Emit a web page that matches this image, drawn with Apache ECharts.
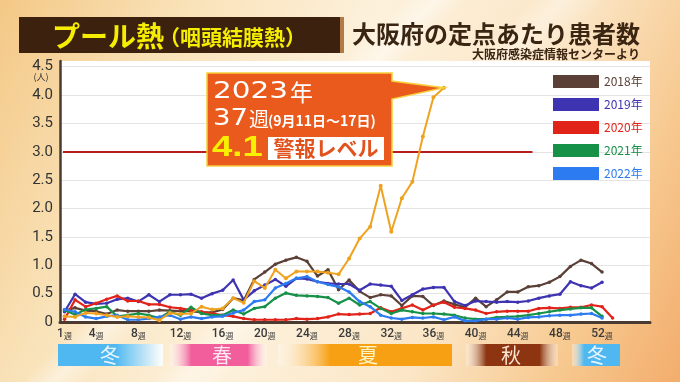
<!DOCTYPE html>
<html><head><meta charset="utf-8">
<script src="https://cdn.jsdelivr.net/npm/echarts@6/dist/echarts.min.js"></script>
<style>
html,body{margin:0;padding:0;width:680px;height:382px;overflow:hidden}
body{background:
 linear-gradient(135deg, rgba(255,255,255,0) 38%, rgba(255,255,255,0.45) 41%, rgba(255,255,255,0) 44%),
 linear-gradient(135deg, rgba(255,255,255,0) 50%, rgba(255,255,255,0.35) 53%, rgba(255,255,255,0) 57%),
 linear-gradient(115deg, #f4c886 0%, #f9e2b8 22%, #fdf1dc 45%, #fbe6c6 68%, #f7c990 85%, #f3ad6c 100%);}
#c{width:680px;height:382px}
</style>
</head><body><div id="c"></div>
<script>
const weeks = [1,2,3,4,5,6,7,8,9,10,11,12,13,14,15,16,17,18,19,20,21,22,23,24,25,26,27,28,29,30,31,32,33,34,35,36,37,38,39,40,41,42,43,44,45,46,47,48,49,50,51,52,53];
const xTickWeeks = [1,4,8,12,16,20,24,28,32,36,40,44,48,52];
const yTicks = [0,0.5,1,1.5,2,2.5,3,3.5,4,4.5];
const seriesNames = ['2018年','2019年','2020年','2021年','2022年','2023年'];
const y2018 = [0.20,0.25,0.20,0.19,0.14,0.21,0.19,0.19,0.19,0.21,
 0.20,0.19,0.19,0.17,0.17,0.22,0.42,0.38,0.75,0.88,
 1.02,1.09,1.14,1.07,0.81,0.92,0.57,0.74,0.54,0.43,
 0.48,0.46,0.29,0.46,0.45,0.29,0.37,0.31,0.26,0.42,
 0.27,0.39,0.53,0.53,0.62,0.64,0.70,0.80,0.98,1.09,
 1.03,0.88];
const y2019 = [0.18,0.49,0.35,0.32,0.33,0.40,0.42,0.36,0.48,0.36,
 0.48,0.48,0.49,0.42,0.50,0.56,0.74,0.39,0.55,0.65,
 0.75,0.63,0.77,0.76,0.71,0.68,0.67,0.67,0.56,0.67,
 0.65,0.63,0.38,0.48,0.58,0.61,0.61,0.36,0.29,0.37,
 0.36,0.35,0.36,0.35,0.37,0.42,0.46,0.49,0.71,0.64,
 0.60,0.70];
const y2020 = [0.05,0.39,0.27,0.33,0.40,0.46,0.37,0.37,0.31,0.31,
 0.26,0.24,0.21,0.18,0.15,0.12,0.10,0.06,0.04,0.04,
 0.04,0.04,0.06,0.05,0.06,0.09,0.14,0.13,0.14,0.15,
 0.25,0.18,0.24,0.30,0.21,0.30,0.35,0.26,0.24,0.21,
 0.15,0.18,0.19,0.19,0.19,0.24,0.25,0.24,0.26,0.26,
 0.30,0.27,0.07];
const y2021 = [0.21,0.13,0.22,0.24,0.27,0.10,0.12,0.15,0.12,0.07,
 0.18,0.12,0.26,0.15,0.12,0.12,0.21,0.14,0.24,0.27,
 0.42,0.51,0.47,0.46,0.45,0.43,0.33,0.42,0.30,0.36,
 0.24,0.15,0.21,0.18,0.15,0.15,0.14,0.12,0.07,0.05,
 0.05,0.08,0.09,0.10,0.12,0.15,0.18,0.21,0.23,0.25,
 0.25,0.10];
const y2022 = [0.22,0.18,0.09,0.06,0.10,0.12,0.04,0.04,0.06,0.09,
 0.12,0.05,0.09,0.06,0.09,0.10,0.16,0.21,0.36,0.39,
 0.60,0.68,0.77,0.80,0.71,0.66,0.62,0.53,0.36,0.27,
 0.12,0.07,0.05,0.08,0.07,0.09,0.04,0.09,0.02,0.02,
 0.05,0.05,0.07,0.05,0.08,0.09,0.11,0.12,0.12,0.14,
 0.15,0.07];
const y2023 = [0.10,0.09,0.16,0.15,0.12,0.09,0.10,0.09,0.08,0.03,
 0.16,0.14,0.15,0.27,0.22,0.24,0.42,0.34,0.72,0.60,
 0.92,0.77,0.89,0.89,0.89,0.87,0.84,1.12,1.47,1.68,
 2.40,1.59,2.18,2.47,3.27,3.96,4.13];
const alertLevel = 3.0;
const alertLineWeeks = [0.85, 45.4];
const seasons = [
  {name:'冬', from:58, to:163, color:'#4fb8f0', text:'#eaf6ff', fade:'right'},
  {name:'春', from:170, to:267, color:'#f25d9c', text:'#ffe6f2', fade:'both'},
  {name:'夏', from:278, to:452, color:'#f7a014', text:'#fff6c8', fade:'left'},
  {name:'秋', from:466, to:558, color:'#8c3510', text:'#fbe4d6', fade:'both'},
  {name:'冬', from:572, to:620, color:'#4fb8f0', text:'#eaf6ff', fade:'left'}
];

const colors = ['#5b4037','#3e33b0','#e2231a','#169148','#2c7bf0','#eea21f'];
const allY = [y2018,y2019,y2020,y2021,y2022,y2023];
const JP = '"Noto Sans CJK JP", sans-serif';

const series = allY.map((arr, i) => ({
  name: seriesNames[i],
  type: 'line',
  data: arr.map((v, j) => [weeks[j], v]),
  symbol: 'circle',
  symbolSize: i === 5 ? 4 : 3.5,
  itemStyle: {color: colors[i]},
  lineStyle: {color: colors[i], width: i === 5 ? 2 : 2.2},
  z: i === 5 ? 10 : 3 + i,
  silent: true,
  animation: false
}));
series[0].markLine = {
  symbol: 'none', silent: true, label: {show: false},
  lineStyle: {color: '#b81c1c', width: 2, type: 'solid'},
  data: [[{coord: [alertLineWeeks[0], alertLevel]}, {coord: [alertLineWeeks[1], alertLevel]}]]
};

const splitColors = yTicks.map(() => '#e4e4e4').concat(['rgba(0,0,0,0)']);

const chart = echarts.init(document.getElementById('c'), null, {width: 680, height: 382});
chart.setOption({
  animation: false,
  backgroundColor: 'transparent',
  grid: {left: 60, right: 30, top: 61, bottom: 60, show: true, backgroundColor: '#ffffff', borderWidth: 0},
  xAxis: {
    type: 'value', min: 0.57, max: 56.55,
    axisLine: {show: true, onZero: false, lineStyle: {color: '#4a3a30', width: 3}},
    axisTick: {show: false},
    splitLine: {show: false},
    axisLabel: {
      customValues: xTickWeeks,
      margin: 6,
      formatter: v => '{n|' + v + '}{w|週}',
      rich: {
        n: {fontSize: 12, color: '#3a3a3a', fontFamily: 'Roboto', fontWeight: 500},
        w: {fontSize: 8, color: '#3a3a3a', fontFamily: JP, padding: [3, 0, 0, 0]}
      }
    }
  },
  yAxis: {
    type: 'value', min: 0, max: 4.6, interval: 0.5,
    axisLine: {show: true, lineStyle: {color: '#4a3a30', width: 2.5}},
    axisTick: {show: false},
    splitLine: {show: true, lineStyle: {color: splitColors, width: 1}},
    axisLabel: {
      showMaxLabel: false, margin: 7,
      color: '#333', fontSize: 15, fontFamily: 'Roboto',
      formatter: v => yTicks.includes(v) ? (v === 0 ? '0' : v.toFixed(1)) : ''
    }
  },
  legend: {
    orient: 'vertical', left: 548, top: 70, itemWidth: 46, itemHeight: 13, itemGap: 10,
    icon: 'rect', selectedMode: false,
    textStyle: {fontSize: 12, fontFamily: JP},
    data: seriesNames.slice(0, 5).map((n, i) => ({name: n, textStyle: {color: colors[i]}, itemStyle: {color: colors[i]}}))
  },
  series: series
});

// decorations
const tip = chart.convertToPixel({gridIndex: 0}, [weeks[y2023.length - 1], y2023[y2023.length - 1]]);
const g = [];
// title
g.push({type: 'rect', shape: {x: 19, y: 17, width: 322, height: 36}, style: {fill: '#3c210e'}, z: 20});
g.push({type: 'rect', shape: {x: 340, y: 17, width: 4, height: 36}, style: {fill: '#b37a48'}, z: 20});
g.push({type: 'text', x: 52, y: 36, z: 21, style: {text: 'プール熱', fontSize: 28, fontWeight: 'bold', fontFamily: JP, fill: '#f6ee00', verticalAlign: 'middle'}});
g.push({type: 'text', x: 159, y: 37, z: 21, style: {text: '（咽頭結膜熱）', fontSize: 21, fontWeight: 'bold', fontFamily: JP, fill: '#f6ee00', verticalAlign: 'middle'}});
g.push({type: 'text', x: 352, y: 34, z: 21, style: {text: '大阪府の定点あたり患者数', fontSize: 24, fontWeight: 'bold', fontFamily: JP, fill: '#3a2412', verticalAlign: 'middle'}});
g.push({type: 'text', x: 640, y: 54, z: 21, style: {text: '大阪府感染症情報センターより', fontSize: 12, fontWeight: 'bold', fontFamily: JP, fill: '#3a2412', align: 'right', verticalAlign: 'middle'}});
g.push({type: 'text', x: 41, y: 77, z: 21, style: {text: '(人)', fontSize: 9, fontFamily: JP, fill: '#333', align: 'center', verticalAlign: 'middle'}});
// seasons
seasons.forEach(s => {
  const w = s.to - s.from;
  let stops;
  if (s.fade === 'right') stops = [{offset: 0, color: s.color}, {offset: 0.55, color: s.color}, {offset: 1, color: 'rgba(255,255,255,0.9)'}];
  else if (s.fade === 'left') stops = [{offset: 0, color: 'rgba(255,255,255,0.3)'}, {offset: w > 100 ? 0.3 : 0.25, color: s.color}, {offset: 1, color: s.color}];
  else stops = [{offset: 0, color: 'rgba(255,255,255,0.3)'}, {offset: 0.22, color: s.color}, {offset: 0.8, color: s.color}, {offset: 1, color: 'rgba(255,255,255,0.3)'}];
  g.push({type: 'rect', z: 20, shape: {x: s.from, y: 344, width: w, height: 22},
    style: {fill: new echarts.graphic.LinearGradient(0, 0, 1, 0, stops)}});
});
const seasonTextX = [110, 222, 368, 511, 597];
seasons.forEach((s, i) => {
  g.push({type: 'text', z: 21, x: seasonTextX[i], y: 355, style: {text: s.name, fontSize: 20, fontFamily: JP, fill: s.text, align: 'center', verticalAlign: 'middle'}});
});
// callout
g.push({type: 'polygon', z: 30, shape: {points: [[207, 73], [392, 73], [392, 81], [tip[0], tip[1]], [392, 99], [392, 166], [207, 166]]},
  style: {fill: '#e95a1c', stroke: '#f7cf3c', lineWidth: 1.5}});
g.push({type: 'text', z: 31, x: 213, y: 92, scaleX: 1.28, style: {text: '2023', fontSize: 23, fontFamily: 'DejaVu Sans', fill: '#fff', verticalAlign: 'middle'}});
g.push({type: 'text', z: 31, x: 290, y: 92, style: {text: '年', fontSize: 23, fontFamily: JP, fill: '#fff', verticalAlign: 'middle'}});
g.push({type: 'text', z: 31, x: 213, y: 119, scaleX: 1.2, style: {text: '37', fontSize: 23, fontFamily: 'DejaVu Sans', fill: '#fff', verticalAlign: 'middle'}});
g.push({type: 'text', z: 31, x: 249, y: 119, style: {text: '週', fontSize: 20, fontFamily: JP, fill: '#fff', verticalAlign: 'middle'}});
g.push({type: 'text', z: 31, x: 268, y: 121, style: {text: '(9月11日〜17日)', fontSize: 14, fontFamily: JP, fontWeight: 'bold', fill: '#fff', verticalAlign: 'middle'}});
g.push({type: 'text', z: 31, x: 212, y: 148, scaleX: 1.22, style: {text: String(y2023[y2023.length - 1]).slice(0, 3), fontSize: 30, fontWeight: 'bold', fontFamily: 'Liberation Sans', fill: '#f8f000', verticalAlign: 'middle'}});
g.push({type: 'rect', z: 31, shape: {x: 268, y: 137, width: 116, height: 23}, style: {fill: '#ffffff'}});
g.push({type: 'text', z: 32, x: 326, y: 148.5, style: {text: '警報レベル', fontSize: 21, fontWeight: 'bold', fontFamily: JP, fill: '#e2521c', align: 'center', verticalAlign: 'middle'}});

chart.setOption({graphic: {elements: g}});
</script>
</body></html>
